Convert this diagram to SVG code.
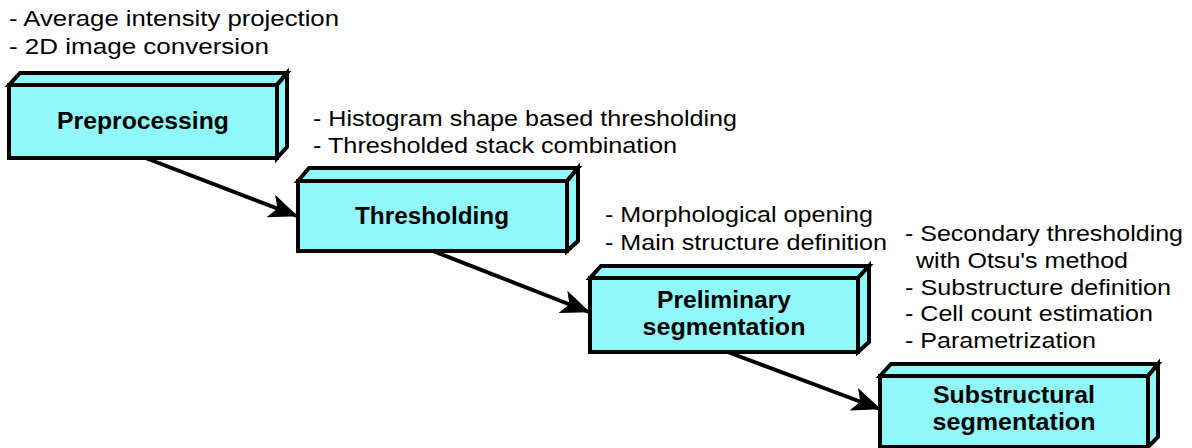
<svg xmlns="http://www.w3.org/2000/svg" width="1192" height="448" viewBox="0 0 1192 448">
<style>
.face{fill:#90F8F8;stroke:#000;stroke-width:4;stroke-linejoin:miter}
.lbl{font-family:"Liberation Sans",Arial,sans-serif;font-weight:bold;font-size:23px;fill:#000;text-anchor:middle}
.note{font-family:"Liberation Sans",Arial,sans-serif;font-size:22px;fill:#000}
.conn{stroke:#000;stroke-width:4;fill:none}
</style>
<defs>
<marker id="ah" markerUnits="userSpaceOnUse" markerWidth="32" markerHeight="26" refX="28" refY="12" orient="auto">
<path d="M0,0 L29,12 L0,24 L7,12 z" fill="#000"/>
</marker>
</defs>
<rect width="1192" height="448" fill="#fff"/>
<g id="notes">
<text class="note" x="9" y="26" textLength="330" lengthAdjust="spacingAndGlyphs">- Average intensity projection</text>
<text class="note" x="9" y="54" textLength="260" lengthAdjust="spacingAndGlyphs">- 2D image conversion</text>
<text class="note" x="313" y="126" textLength="424" lengthAdjust="spacingAndGlyphs">- Histogram shape based thresholding</text>
<text class="note" x="313" y="153" textLength="364" lengthAdjust="spacingAndGlyphs">- Thresholded stack combination</text>
<text class="note" x="605" y="222" textLength="268" lengthAdjust="spacingAndGlyphs">- Morphological opening</text>
<text class="note" x="605" y="250" textLength="282" lengthAdjust="spacingAndGlyphs">- Main structure definition</text>
<text class="note" x="905" y="241" textLength="278" lengthAdjust="spacingAndGlyphs">- Secondary thresholding</text>
<text class="note" x="916" y="268" textLength="212" lengthAdjust="spacingAndGlyphs">with Otsu's method</text>
<text class="note" x="905" y="295" textLength="266" lengthAdjust="spacingAndGlyphs">- Substructure definition</text>
<text class="note" x="905" y="321" textLength="248" lengthAdjust="spacingAndGlyphs">- Cell count estimation</text>
<text class="note" x="905" y="348" textLength="191" lengthAdjust="spacingAndGlyphs">- Parametrization</text>
</g>
<g id="connectors">
<line class="conn" x1="143" y1="157" x2="297" y2="216" marker-end="url(#ah)"/>
<line class="conn" x1="433" y1="251" x2="589" y2="312" marker-end="url(#ah)"/>
<line class="conn" x1="725" y1="351" x2="880" y2="409" marker-end="url(#ah)"/>
</g>
<g id="preprocessing">
<path class="face" d="M9,85 L20,73 L287,73 L277,85 Z"/>
<path class="face" d="M277,85 L287,73 L287,147 L277,158 Z"/>
<rect class="face" x="9" y="85" width="268" height="73"/>
<text class="lbl" x="143" y="129" textLength="172" lengthAdjust="spacingAndGlyphs">Preprocessing</text>
</g>
<g id="thresholding">
<path class="face" d="M298,181 L309,168 L578,168 L567,181 Z"/>
<path class="face" d="M567,181 L578,168 L578,241 L567,251 Z"/>
<rect class="face" x="298" y="181" width="269" height="70"/>
<text class="lbl" x="432" y="224" textLength="154" lengthAdjust="spacingAndGlyphs">Thresholding</text>
</g>
<g id="preliminary">
<path class="face" d="M590,278 L601,266 L869,266 L858,278 Z"/>
<path class="face" d="M858,278 L869,266 L869,342 L858,352 Z"/>
<rect class="face" x="590" y="278" width="268" height="74"/>
<text class="lbl" x="724" y="308" textLength="134" lengthAdjust="spacingAndGlyphs">Preliminary</text>
<text class="lbl" x="724" y="335" textLength="163" lengthAdjust="spacingAndGlyphs">segmentation</text>
</g>
<g id="substructural">
<path class="face" d="M880,376 L891,364 L1158,364 L1148,376 Z"/>
<path class="face" d="M1148,376 L1158,364 L1158,437 L1148,447 Z"/>
<rect class="face" x="880" y="376" width="268" height="71"/>
<text class="lbl" x="1014" y="403" textLength="162" lengthAdjust="spacingAndGlyphs">Substructural</text>
<text class="lbl" x="1014" y="430" textLength="163" lengthAdjust="spacingAndGlyphs">segmentation</text>
</g>
</svg>
